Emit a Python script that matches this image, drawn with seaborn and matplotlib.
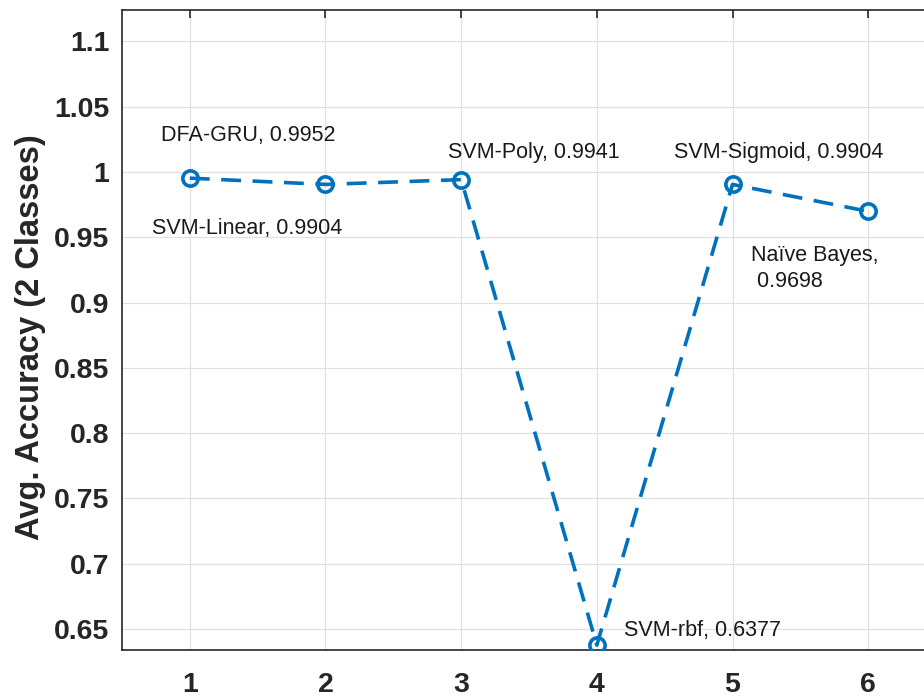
import matplotlib
matplotlib.use("Agg")
import matplotlib.pyplot as plt
import seaborn as sns
import pandas as pd

# Data
model_index = [1, 2, 3, 4, 5, 6]
model_names = ["DFA-GRU", "SVM-Linear", "SVM-Poly", "SVM-rbf", "SVM-Sigmoid", "Naïve Bayes"]
accuracy = [0.9952, 0.9904, 0.9941, 0.6377, 0.9904, 0.9698]
x_ticks = [1, 2, 3, 4, 5, 6]
y_ticks = [0.65, 0.7, 0.75, 0.8, 0.85, 0.9, 0.95, 1.0, 1.05, 1.1]
y_tick_labels = ["0.65", "0.7", "0.75", "0.8", "0.85", "0.9", "0.95", "1", "1.05", "1.1"]

df = pd.DataFrame({"model": model_index, "acc": accuracy})

sns.set_theme(style="white")
plt.rcParams['font.family'] = ['Liberation Sans', 'DejaVu Sans']

fig = plt.figure(figsize=(9.24, 6.98), dpi=100)
ax = fig.add_axes([0.132, 0.0688, 0.881, 0.917])

sns.lineplot(data=df, x="model", y="acc", ax=ax, color="#0072BD",
             linestyle=(0, (5.5, 3.2)), linewidth=2.6, marker="o", markersize=11,
             markerfacecolor="none", markeredgecolor="#0072BD", markeredgewidth=2.6,
             zorder=3)

ax.set_xlim(0.5, 6.5)
ax.set_ylim(0.634, 1.124)
ax.set_xticks(x_ticks)
ax.set_xticklabels([str(t) for t in x_ticks])
ax.set_yticks(y_ticks)
ax.set_yticklabels(y_tick_labels)
ax.grid(True, color="#e0e0e0", linewidth=0.9)
ax.set_axisbelow(True)

ax.tick_params(axis="both", direction="in", length=6, width=1.2, color="#262626",
               labelsize=20.5, labelcolor="#262626", top=True)
ax.tick_params(axis="x", pad=15.5)
ax.tick_params(axis="y", pad=9)
for lbl in ax.get_xticklabels() + ax.get_yticklabels():
    lbl.set_fontweight("bold")
for side in ["left", "bottom", "top", "right"]:
    ax.spines[side].set_color("#262626")
    ax.spines[side].set_linewidth(1.2)

ax.set_xlabel("")
ax.set_ylabel("Avg. Accuracy (2 Classes)", fontsize=23.5, fontweight="bold",
              color="#262626")
ax.yaxis.set_label_coords(-0.093, 0.489)

# Annotations (text positions in data coordinates)
label_pos = [(0.79, 1.0275), (0.72, 0.9565), (2.90, 1.0145),
             (4.20, 0.6490), (4.57, 1.0145), (5.14, 0.926)]
for i, (name, val) in enumerate(zip(model_names, accuracy)):
    if name == "Naïve Bayes":
        txt = f"{name},\n {val:.4f}"
    else:
        txt = f"{name}, {val:.4f}"
    ax.text(label_pos[i][0], label_pos[i][1], txt, fontsize=15.5, color="#1a1a1a",
            ha="left", va="center", linespacing=1.35)

fig.savefig("out.png", dpi=100)
